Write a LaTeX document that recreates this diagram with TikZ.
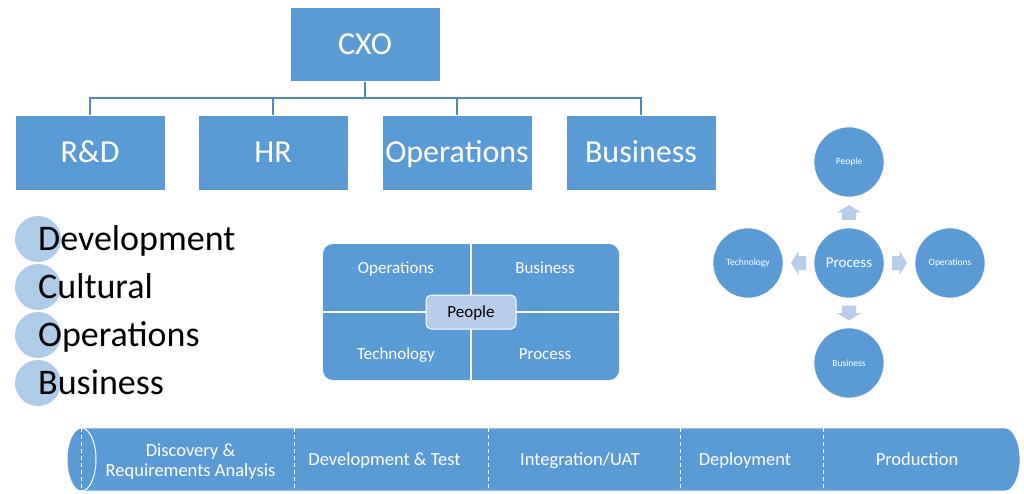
\documentclass[tikz,border=0pt]{standalone}
\usepackage{fontspec}
\setmainfont{Carlito}
\usetikzlibrary{positioning,calc,shapes.geometric}
\definecolor{ofblue}{HTML}{5B9BD5}
\definecolor{lightb}{HTML}{B7CDEA}
\definecolor{circb}{HTML}{AECBEA}
\definecolor{linec}{HTML}{4E86BE}
\tikzset{
  orgbox/.style={fill=ofblue, draw=white, line width=0.8pt, minimum width=150pt, minimum height=75pt, inner sep=0pt, text=white, font=\fontsize{32}{38}\selectfont, text height=20.6pt, text depth=0pt},
  orgline/.style={draw=linec, line width=1.1pt},
  listtxt/.style={anchor=west, inner sep=0pt, text=black, font=\fontsize{36}{40}\selectfont, text height=23.2pt, text depth=0pt},
  listcirc/.style={fill=circb, draw=none, circle, minimum size=46pt, inner sep=0pt},
  quadtxt/.style={text=white, font=\fontsize{17}{20}\selectfont, text height=11pt, text depth=0pt, inner sep=0pt},
  bigcirc/.style={circle, fill=ofblue, draw=white, line width=0.6pt, minimum size=70pt, inner sep=0pt, text=white, font=\fontsize{9.5}{11}\selectfont},
  stagetxt/.style={text=white, align=center, font=\fontsize{18.5}{20}\selectfont, inner sep=0pt},
  stage1/.style={stagetxt, text height=11.9pt, text depth=0pt},
  sep/.style={draw=white, line width=1pt, dash pattern=on 4pt off 3pt},
  blockarrow/.pic={\fill[lightb] (-7.5,-7) -- (0,-7) -- (0,-12) -- (7.5,0) -- (0,12) -- (0,7) -- (-7.5,7) -- cycle;}
}
\begin{document}
\begin{tikzpicture}[x=1pt,y=-1pt]
\useasboundingbox (0,0) rectangle (1024,494);
% org chart
\node[orgbox, minimum height=74pt] (cxo) at (365,44.5) {CXO};
\node[orgbox] (rd) at (90,152.5) {R\&D};
\node[orgbox] (hr) at (273,152.5) {HR};
\node[orgbox] (ops) at (457,152.5) {Operations};
\node[orgbox] (bus) at (641,152.5) {Business};
\coordinate (bar) at (365,98);
\draw[orgline] (cxo.south) -- (bar);
\draw[orgline] (rd.north) |- (bar);
\draw[orgline] (hr.north) |- (bar);
\draw[orgline] (ops.north) |- (bar);
\draw[orgline] (bus.north) |- (bar);
% left list
\node[listcirc] (c1) at (38,239) {};
\node[listcirc] (c2) at (38,287) {};
\node[listcirc] (c3) at (38,335) {};
\node[listcirc] (c4) at (38,383) {};
\node[listtxt] (t1) at (38,239) {Development};
\node[listtxt] (t2) at (38,287) {Cultural};
\node[listtxt] (t3) at (38,335) {Operations};
\node[listtxt] (t4) at (38,383) {Business};
% grid
\node[fill=ofblue, rounded corners=10pt, minimum width=296pt, minimum height=136pt, inner sep=0pt] (grid) at (471,312) {};
\draw[white, line width=1.2pt] (grid.north) -- (grid.south);
\draw[white, line width=1.2pt] (grid.west) -- (grid.east);
\node[quadtxt] (gops) at (396,268) {Operations};
\node[quadtxt] (gbus) at (545,268) {Business};
\node[quadtxt] (gtec) at (396,354) {Technology};
\node[quadtxt] (gpro) at (545,354) {Process};
\node[fill=lightb, draw=white, line width=1pt, rounded corners=5pt, minimum width=90pt, minimum height=34pt, inner sep=0pt, text=black, font=\fontsize{17}{20}\selectfont, text height=11pt, text depth=0pt] (gpeo) at (471,312) {People};
% right diagram
\node[bigcirc, font=\fontsize{15}{18}\selectfont] (proc) at (849,263) {Process};
\node[bigcirc] (rpeo) at (849,162) {People};
\node[bigcirc] (rtec) at (748,263) {Technology};
\node[bigcirc] (rops) at (950,263) {Operations};
\node[bigcirc] (rbus) at (849,363) {Business};
\pic[rotate=90] at ($(proc)!0.5!(rpeo)$) {blockarrow};
\pic[rotate=270] at ($(proc)!0.5!(rbus)$) {blockarrow};
\pic[rotate=180] at ($(proc)!0.5!(rtec)$) {blockarrow};
\pic[rotate=0] at ($(proc)!0.5!(rops)$) {blockarrow};
% cylinder
\fill[ofblue] (81.5,428) -- (1005,428) arc[start angle=-90,end angle=90,x radius=15,y radius=31.5] -- (81.5,491) arc[start angle=90,end angle=270,x radius=14.5,y radius=31.5] -- cycle;
\draw[white, line width=0.8pt] (81.5,428) -- (1005,428) arc[start angle=-90,end angle=90,x radius=15,y radius=31.5] -- (81.5,491);
\node[draw=white, line width=1pt, ellipse, minimum width=29pt, minimum height=63pt, inner sep=0pt] (lend) at (81.5,459.5) {};
\draw[sep] (lend.north) -- (lend.south);
\coordinate (s1t) at (294,428); \coordinate (s1b) at (294,491);
\coordinate (s2t) at (488,428); \coordinate (s2b) at (488,491);
\coordinate (s3t) at (680,428); \coordinate (s3b) at (680,491);
\coordinate (s4t) at (823,428); \coordinate (s4b) at (823,491);
\draw[sep] (s1t) -- (s1b);
\draw[sep] (s2t) -- (s2b);
\draw[sep] (s3t) -- (s3b);
\draw[sep] (s4t) -- (s4b);
\node[stagetxt] (st1) at (190.5,462) {Discovery \&\\Requirements Analysis};
\node[stage1] (st2) at (384.5,460) {Development \& Test};
\node[stage1] (st3) at (580,460) {Integration/UAT};
\node[stage1] (st4) at (745,460) {Deployment};
\node[stage1] (st5) at (917,460) {Production};
\end{tikzpicture}
\end{document}
